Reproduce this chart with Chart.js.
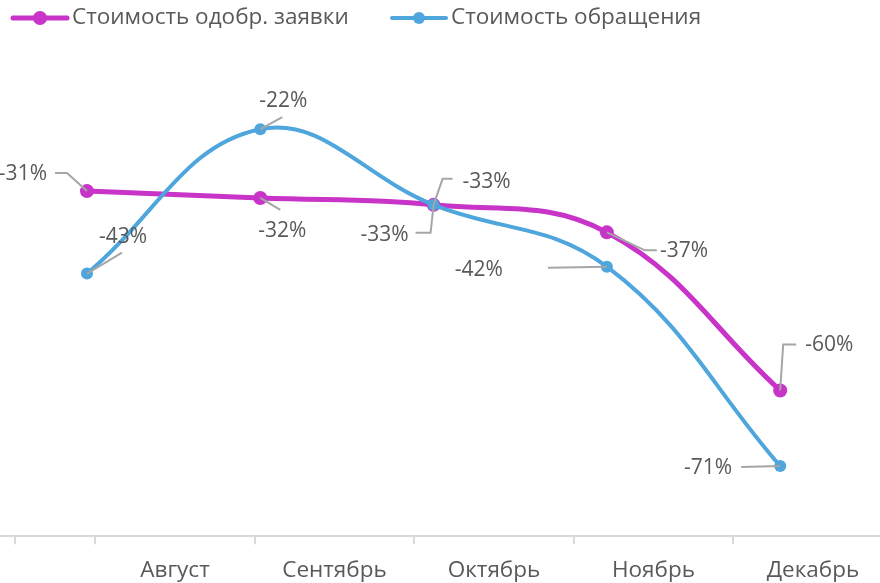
<!DOCTYPE html>
<html>
<head>
<meta charset="utf-8">
<script src="https://cdn.jsdelivr.net/npm/chart.js@4.4.1/dist/chart.umd.min.js"></script>
<style>
  html, body { margin: 0; padding: 0; background: #fff; }
  #wrap { width: 880px; height: 583px; }
</style>
</head>
<body>
<div id="wrap"><canvas id="chart" width="880" height="583"></canvas></div>
<script>
// data
const months = ['Август', 'Сентябрь', 'Октябрь', 'Ноябрь', 'Декабрь'];
const seriesNames = ['Стоимость одобр. заявки', 'Стоимость обращения'];
const approvedCost = [-31, -32, -33, -37, -60];
const requestCost = [-43, -22, -33, -42, -71];

const magenta = '#C833C8';
const blue = '#4EA6DC';
const textGrey = '#595959';
const fontFamily = '"Open Sans", "Noto Sans", sans-serif';

// where each data label sits relative to its point (and its leader line)
const approvedLabelPos = [
    { tx: -40, ty: -17, align: 'right', path: [[-20, -18], [-32, -18]] },
    { tx: 22, ty: 33, align: 'center', path: [[20, 12]] },
    { tx: 29, ty: -23, align: 'left', path: [[9, -26], [19, -26]] },
    { tx: 53, ty: 19, align: 'left', path: [[38, 18], [50, 18]] },
    { tx: 25, ty: -45, align: 'left', path: [[3, -46], [16, -46]] }
];
const requestLabelPos = [
    { tx: 36, ty: -37, align: 'center', path: [[35, -21]] },
    { tx: 23, ty: -28, align: 'center', path: [[22, -12]] },
    { tx: -25, ty: 30, align: 'right', path: [[-3, 28], [-18, 28]] },
    { tx: -104, ty: 3, align: 'right', path: [[-59, 1]] },
    { tx: -48, ty: 2, align: 'right', path: [[-39, 1]] }
];

const toPoints = (vals) => vals.map((v, i) => ({ x: i, y: v }));

// data labels with grey leader lines
const dataLabels = {
    id: 'dataLabels',
    afterDatasetsDraw(chart) {
        const ctx = chart.ctx;
        ctx.save();
        chart.data.datasets.forEach((ds, di) => {
            const meta = chart.getDatasetMeta(di);
            meta.data.forEach((pt, i) => {
                const pos = ds.labelPos[i];
                ctx.strokeStyle = '#A6A6A6';
                ctx.lineWidth = 2;
                ctx.beginPath();
                ctx.moveTo(pt.x, pt.y);
                pos.path.forEach(p => ctx.lineTo(pt.x + p[0], pt.y + p[1]));
                ctx.stroke();
                ctx.fillStyle = textGrey;
                ctx.font = '21px ' + fontFamily;
                ctx.textAlign = pos.align;
                ctx.textBaseline = 'middle';
                ctx.fillText(ds.data[i].y + '%', pt.x + pos.tx, pt.y + pos.ty);
            });
        });
        ctx.restore();
    }
};

// legend: line with a dot, then the series name
const lineLegend = {
    id: 'lineLegend',
    afterDraw(chart) {
        const ctx = chart.ctx;
        const startX = [13, 392];
        const y = 18;
        ctx.save();
        chart.data.datasets.forEach((ds, di) => {
            const x = startX[di];
            ctx.strokeStyle = ds.borderColor;
            ctx.lineWidth = ds.borderWidth;
            ctx.lineCap = 'round';
            ctx.beginPath();
            ctx.moveTo(x, y);
            ctx.lineTo(x + 54, y);
            ctx.stroke();
            ctx.fillStyle = ds.borderColor;
            ctx.beginPath();
            ctx.arc(x + 27, y, ds.pointRadius, 0, Math.PI * 2);
            ctx.fill();
            ctx.fillStyle = textGrey;
            ctx.font = '22.5px ' + fontFamily;
            ctx.textAlign = 'left';
            ctx.textBaseline = 'middle';
            ctx.fillText(ds.label, x + 59, y);
        });
        ctx.restore();
    }
};

const ctx = document.getElementById('chart');
const chart = new Chart(ctx, {
    type: 'line',
    data: {
        datasets: [
            {
                label: seriesNames[0],
                data: toPoints(approvedCost),
                labelPos: approvedLabelPos,
                xAxisID: 'xp',
                yAxisID: 'y',
                borderColor: magenta,
                backgroundColor: magenta,
                pointBackgroundColor: magenta,
                borderWidth: 5,
                pointRadius: 7,
                pointBorderWidth: 0,
                tension: 0.4,
                order: 2
            },
            {
                label: seriesNames[1],
                data: toPoints(requestCost),
                labelPos: requestLabelPos,
                xAxisID: 'xp',
                yAxisID: 'y',
                borderColor: blue,
                backgroundColor: blue,
                pointBackgroundColor: blue,
                borderWidth: 4,
                pointRadius: 6,
                pointBorderWidth: 0,
                tension: 0.4,
                order: 1
            }
        ]
    },
    options: {
        responsive: false,
        animation: false,
        devicePixelRatio: 1,
        layout: { autoPadding: false, padding: { top: 45, left: 0, right: 0, bottom: -14 } },
        plugins: {
            legend: { display: false },
            tooltip: { enabled: false }
        },
        scales: {
            // axis the lines are plotted on (hidden)
            xp: {
                type: 'linear',
                display: false,
                min: -0.502,
                max: 4.576
            },
            // month axis with tick marks between categories
            xl: {
                type: 'linear',
                position: 'bottom',
                min: -1.097,
                max: 4.42,
                afterBuildTicks(scale) {
                    const vals = [-1, -0.5];
                    months.forEach((m, i) => {
                        vals.push(i);
                        if (i + 0.5 < 4.42) vals.push(i + 0.5);
                    });
                    scale.ticks = vals.map(v => ({ value: v }));
                },
                grid: {
                    drawOnChartArea: false,
                    drawTicks: true,
                    tickLength: 8,
                    lineWidth: 2,
                    color: (c) => (c.tick && Number.isInteger(c.tick.value) && c.tick.value >= 0) ? 'rgba(0,0,0,0)' : '#D9D9D9'
                },
                border: { display: true, color: '#D9D9D9', width: 2, dash: [17, 78, 3000] },
                ticks: {
                    autoSkip: false,
                    maxRotation: 0,
                    minRotation: 0,
                    padding: 14,
                    color: textGrey,
                    font: { family: fontFamily, size: 22.5, lineHeight: 1.1 },
                    callback: (v) => (Number.isInteger(v) && v >= 0 && v < months.length) ? months[v] : ''
                }
            },
            y: {
                display: false,
                min: -81.21,
                max: -9.75
            }
        }
    },
    plugins: [dataLabels, lineLegend]
});
</script>
</body>
</html>
